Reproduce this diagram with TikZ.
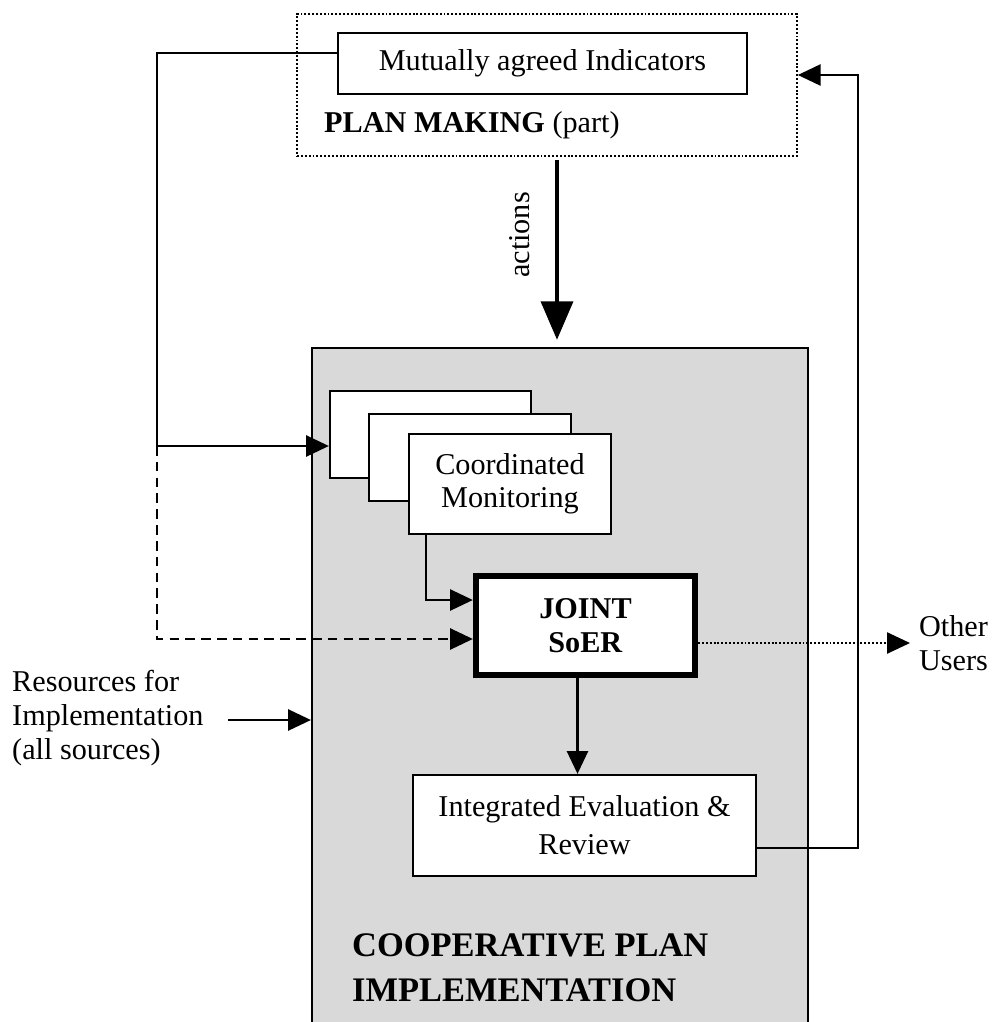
\documentclass[tikz,border=0pt]{standalone}
\usepackage{fontspec}
\setmainfont{Liberation Serif}
\usetikzlibrary{arrows.meta}

\begin{document}
\begin{tikzpicture}[x=0.02cm,y=-0.02cm,>={Triangle[length=13pt,width=12pt]},
  font=\fontsize{17.2}{19.5}\selectfont,
  box/.style={draw,line width=1.3pt,fill=white,align=center,inner sep=0pt},
  link/.style={line width=1.4pt,->},
  dots/.style={line width=1pt,dash pattern=on 1.1pt off 1.1pt}]
  \useasboundingbox (0,0) rectangle (995,1022);
  \clip (0,0) rectangle (995,1022);

  % plan making (top)
  \node[dots,draw,minimum width=10cm,minimum height=2.84cm] (plan) at (547,85) {};
  \node[box,minimum width=8.18cm,minimum height=1.22cm] (ind) at (542.5,63.5) {Mutually agreed Indicators};
  \node[anchor=west] (pm) at (318,125) {\textbf{PLAN MAKING} (part)};

  % implementation block
  \node[draw,line width=1.3pt,fill=black!15,minimum width=9.92cm,minimum height=13.84cm] (impl) at (560,694) {};
  \node[box,minimum width=4.02cm,minimum height=1.74cm] (box1) at (430.5,434.5) {};
  \node[box,minimum width=4.04cm,minimum height=1.74cm] (box2) at (470,457.5) {};
  \node[box,minimum width=4.04cm,minimum height=2cm] (mon) at (510,484) {Coordinated\\[-1pt]Monitoring};
  \node[box,line width=3.6pt,minimum width=4.38cm,minimum height=1.98cm] (joint) at (585.5,625.5)
    {\textbf{JOINT}\\\textbf{SoER}};
  \node[box,minimum width=6.86cm,minimum height=2.02cm] (integ) at (584.5,825.5)
    {Integrated Evaluation \&\\[2pt]Review};
  \node[anchor=west,align=left,font=\fontsize{19.6}{25.5}\selectfont\bfseries] (coop) at (346,968)
    {COOPERATIVE PLAN\\IMPLEMENTATION};

  % outside labels
  \node[anchor=west,align=left] (res) at (6,718) {Resources for\\Implementation\\(all sources)};
  \node[anchor=west,align=left,inner sep=5pt] (users) at (910,643) {Other\\Users};

  % actions
  \node[rotate=90] (act) at (520,235) {actions};
  \draw[->,line width=2.8pt,>={Triangle[length=22pt,width=18pt]},shorten <=2pt,shorten >=4pt]
    ([xshift=0.2cm]plan.south) -- ([xshift=0.2cm]plan.south |- impl.north);

  % connectors
  \coordinate (top) at (0,53);
  \coordinate (split) at (157,446);
  \coordinate (resin) at (228,720);
  \coordinate (fb) at (858,75);
  \draw[link] (ind.west |- top) -| (split) -- (box1.west |- split);
  \draw[link,dash pattern=on 5.5pt off 3.5pt] (split) |- ([yshift=-0.27cm]joint.west);
  \draw[link] ([xshift=-1.68cm]mon.south) |- ([yshift=0.51cm]joint.west);
  \draw[link] ([xshift=-0.16cm]joint.south) -- ([xshift=-0.16cm]joint.south |- integ.north);
  \draw[link] (resin) -- (impl.west |- resin);
  \draw[link] ([yshift=-0.45cm]integ.east) -| (fb) -- (plan.east |- fb);
  \draw[->,dots] (joint.east |- users.west) -- (users.west);
\end{tikzpicture}
\end{document}
